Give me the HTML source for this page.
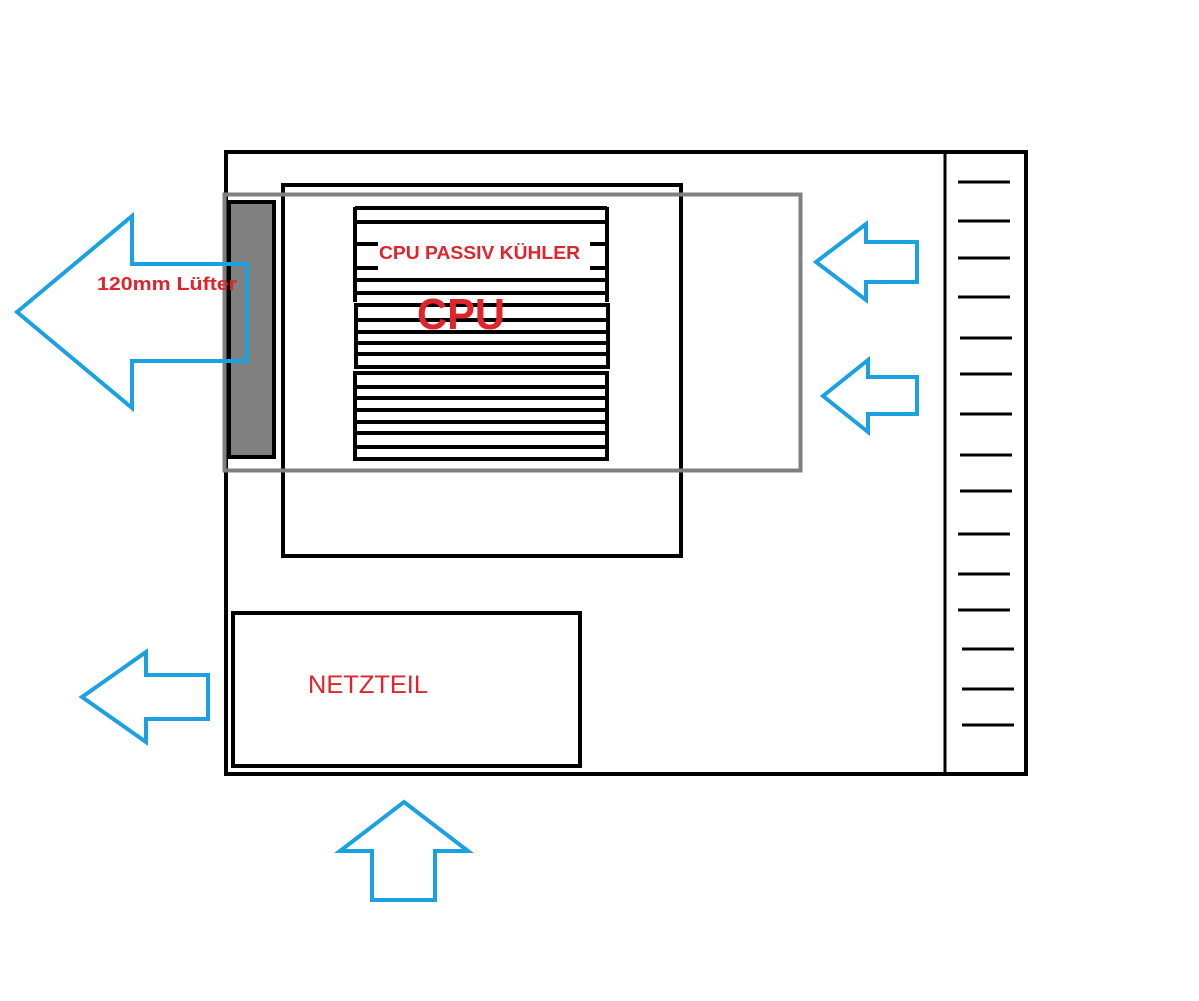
<!DOCTYPE html><html><head><style>body{margin:0;background:#fff}svg{display:block}</style></head><body>
<svg width="1199" height="1001" xmlns="http://www.w3.org/2000/svg" font-family="'Liberation Sans', sans-serif">
<rect x="226" y="152" width="800" height="622" fill="none" stroke="#000" stroke-width="4"/>
<line x1="945" y1="152" x2="945" y2="774" stroke="#000" stroke-width="3"/>
<g stroke="#000" stroke-width="3">
<line x1="958" y1="182" x2="1010" y2="182"/><line x1="958" y1="221" x2="1010" y2="221"/><line x1="958" y1="258" x2="1010" y2="258"/><line x1="958" y1="297" x2="1010" y2="297"/><line x1="960" y1="338" x2="1012" y2="338"/><line x1="960" y1="374" x2="1012" y2="374"/><line x1="960" y1="414" x2="1012" y2="414"/><line x1="960" y1="455" x2="1012" y2="455"/><line x1="960" y1="491" x2="1012" y2="491"/><line x1="958" y1="534" x2="1010" y2="534"/><line x1="958" y1="574" x2="1010" y2="574"/><line x1="958" y1="610" x2="1010" y2="610"/><line x1="962" y1="649" x2="1014" y2="649"/><line x1="962" y1="689" x2="1014" y2="689"/><line x1="962" y1="725" x2="1014" y2="725"/>
</g>
<rect x="283" y="185" width="398" height="371" fill="none" stroke="#000" stroke-width="4"/>
<rect x="233" y="613" width="347" height="153" fill="none" stroke="#000" stroke-width="4"/>
<text x="308" y="693" font-size="25" fill="#e0242c" textLength="120" lengthAdjust="spacingAndGlyphs">NETZTEIL</text>
<g stroke="#000" stroke-width="4">
<line x1="355" y1="207" x2="355" y2="302"/><line x1="607" y1="207" x2="607" y2="302"/>
<line x1="355" y1="208" x2="607" y2="208"/><line x1="355" y1="222" x2="607" y2="222"/>
<line x1="355" y1="244" x2="378" y2="244"/><line x1="590" y1="244" x2="607" y2="244"/>
<line x1="355" y1="268" x2="378" y2="268"/><line x1="590" y1="268" x2="607" y2="268"/>
<line x1="355" y1="280" x2="607" y2="280"/><line x1="355" y1="293" x2="607" y2="293"/>
<rect x="356" y="305" width="252" height="62" fill="none"/>
<line x1="356" y1="320" x2="608" y2="320"/><line x1="356" y1="332" x2="608" y2="332"/><line x1="356" y1="343" x2="608" y2="343"/><line x1="356" y1="354" x2="608" y2="354"/>
<rect x="355" y="373" width="252" height="86" fill="none"/>
<line x1="355" y1="387" x2="607" y2="387"/><line x1="355" y1="398" x2="607" y2="398"/><line x1="355" y1="410" x2="607" y2="410"/><line x1="355" y1="422" x2="607" y2="422"/><line x1="355" y1="433" x2="607" y2="433"/><line x1="355" y1="447" x2="607" y2="447"/>
</g>
<text x="379" y="259" font-size="18" font-weight="bold" fill="#e0242c" textLength="201" lengthAdjust="spacingAndGlyphs">CPU PASSIV KÜHLER</text>
<text x="417" y="329" font-size="44" font-weight="bold" fill="#e0242c" textLength="88" lengthAdjust="spacingAndGlyphs">CPU</text>
<rect x="224.5" y="194.5" width="576" height="276" fill="none" stroke="#808080" stroke-width="4"/>
<rect x="229" y="202" width="45" height="255" fill="#808080" stroke="#000" stroke-width="4"/>
<g fill="none" stroke="#1ba1e2" stroke-width="4" stroke-linejoin="miter">
<polygon points="17,312 132,216 132,264 247,264 247,361 132,361 132,408"/>
<polygon points="816,262 866,224 866,242 917,242 917,282 866,282 866,300"/>
<polygon points="823,396 868,360 868,377 917,377 917,414 868,414 868,432"/>
<polygon points="82,697 146,652 146,675 208,675 208,719 146,719 146,742"/>
<polygon points="404,802 468,851 435,851 435,900 372,900 372,851 340,851"/>
</g>
<text x="97" y="290" font-size="18" font-weight="bold" fill="#e0242c" textLength="140" lengthAdjust="spacingAndGlyphs">120mm Lüfter</text>
</svg></body></html>
